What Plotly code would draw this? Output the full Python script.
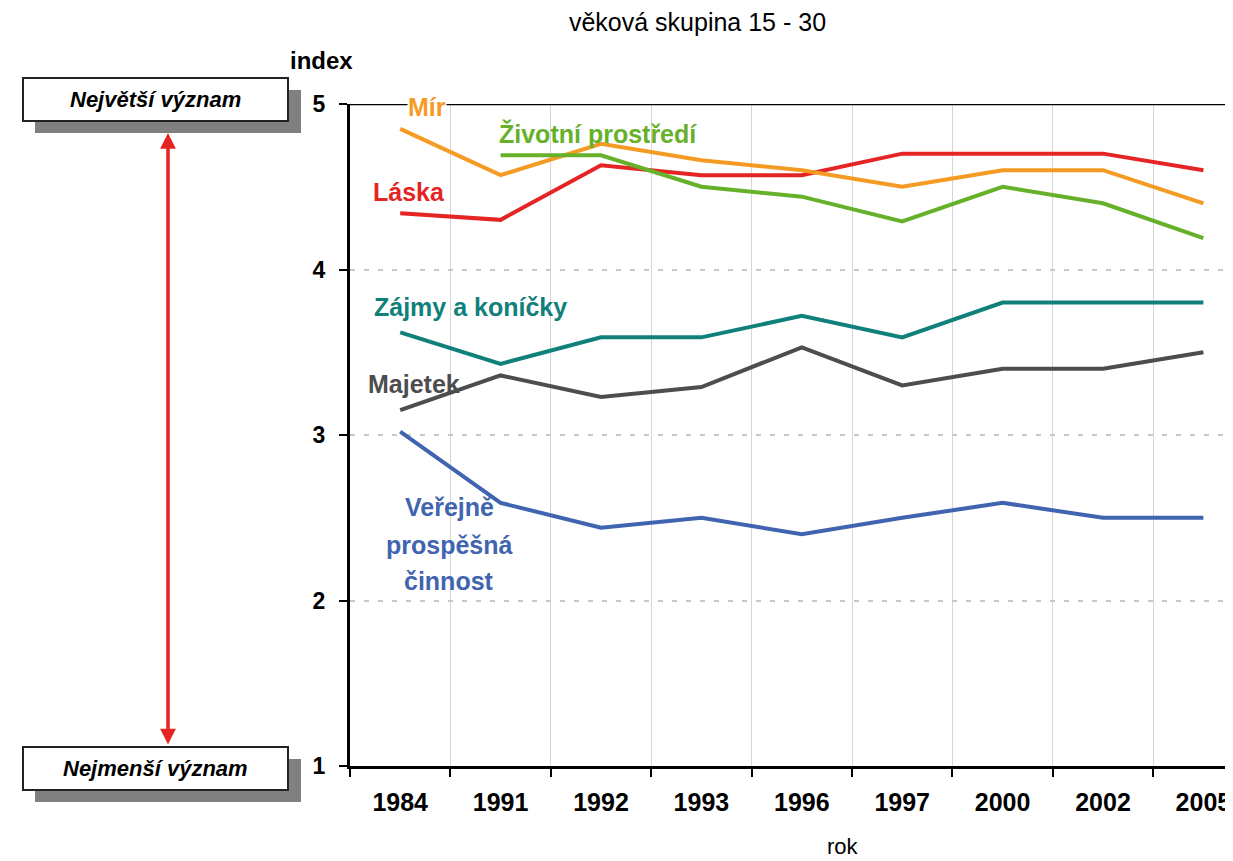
import plotly.graph_objects as go

# ---- data ----
years = ["1984", "1991", "1992", "1993", "1996", "1997", "2000", "2002", "2005"]
mir = [4.85, 4.57, 4.76, 4.66, 4.60, 4.50, 4.60, 4.60, 4.40]
zivotni_prostredi = [None, 4.69, 4.69, 4.50, 4.44, 4.29, 4.50, 4.40, 4.19]
laska = [4.34, 4.30, 4.63, 4.57, 4.57, 4.70, 4.70, 4.70, 4.60]
zajmy = [3.62, 3.43, 3.59, 3.59, 3.72, 3.59, 3.80, 3.80, 3.80]
majetek = [3.15, 3.36, 3.23, 3.29, 3.53, 3.30, 3.40, 3.40, 3.50]
verejne = [3.02, 2.59, 2.44, 2.50, 2.40, 2.50, 2.59, 2.50, 2.50]
y_ticks = [1, 2, 3, 4, 5]

series_names = ["Veřejně prospěšná činnost", "Majetek", "Zájmy a koníčky", "Láska", "Mír", "Životní prostředí"]
series_values = [verejne, majetek, zajmy, laska, mir, zivotni_prostredi]
series_colors = ["#4064B0", "#4D4D4F", "#10807A", "#E42524", "#F59A23", "#67B12A"]

FONT = "Liberation Sans, Arial, sans-serif"
OFF = 8  # page body margin
W, H = 1233 - OFF, 861 - OFF
# plot area in picture pixels
PL, PT, PB, PR = 350, 104, 766, 1233
L, T = PL - OFF, PT - OFF
R = W - (PR - OFF)
B = H - (PB - OFF)
PW, PH = PR - PL, PB - PT


def px(x):
    return (x - PL) / PW


def py(y):
    return (PB - y) / PH


fig = go.Figure()
for name, vals, col in zip(series_names, series_values, series_colors):
    fig.add_trace(go.Scatter(x=years, y=vals, mode="lines", name=name,
                             line=dict(color=col, width=4), connectgaps=False))

annotations = []
lab = [
    ("Mír", "#F59A23", 426.5, 107, True),
    ("Životní prostředí", "#67B12A", 598, 133, False),
    ("Láska", "#E42524", 409, 192, False),
    ("Zájmy a koníčky", "#10807A", 470, 307, False),
    ("Majetek", "#4D4D4F", 414, 384, False),
    ("Veřejně", "#4064B0", 449, 507, False),
    ("prospěšná", "#4064B0", 449, 545, False),
    ("činnost", "#4064B0", 449, 581, False),
]
for t, c, x, y, bg in lab:
    annotations.append(dict(text=t, xref="paper", yref="paper", x=px(x), y=py(y),
                            xanchor="center", yanchor="middle", showarrow=False,
                            bgcolor="white" if bg else None, borderpad=0,
                            font=dict(family=FONT, size=25, color=c, weight="bold")))

annotations.append(dict(text="index", xref="paper", yref="paper", x=px(321), y=py(61),
                        xanchor="center", yanchor="middle", showarrow=False,
                        font=dict(family=FONT, size=24, color="black", weight="bold")))
annotations.append(dict(text="rok", xref="paper", yref="paper", x=px(843), y=py(861),
                        xanchor="center", yanchor="bottom", showarrow=False,
                        font=dict(family=FONT, size=22, color="black")))

for t, y in [("Největší význam", 99.5), ("Nejmenší význam", 768.5)]:
    annotations.append(dict(text=t, xref="paper", yref="paper", x=px(155.5), y=py(y),
                            xanchor="center", yanchor="middle", showarrow=False,
                            font=dict(family=FONT, size=22, color="black", weight="bold", style="italic")))

annotations.append(dict(text="", xref="paper", yref="paper", x=px(168), y=py(133),
                        ax=0, ay=746 - 133, axref="pixel", ayref="pixel",
                        showarrow=True, arrowhead=2, arrowside="end+start",
                        arrowwidth=3.5, arrowsize=0.9, arrowcolor="#E42524"))

shapes = []
shapes.append(dict(type="line", xref="paper", yref="y", x0=0, x1=1, y0=5, y1=5,
                   line=dict(color="black", width=2.5), layer="above"))
for top in [78, 747]:
    shapes.append(dict(type="rect", xref="paper", yref="paper",
                       x0=px(35), x1=px(301), y0=py(top + 12), y1=py(top + 55),
                       fillcolor="#808080", line=dict(width=0), layer="above"))
    shapes.append(dict(type="rect", xref="paper", yref="paper",
                       x0=px(23), x1=px(288), y0=py(top), y1=py(top + 43),
                       fillcolor="white", line=dict(color="#222222", width=2), layer="above"))

fig.update_layout(
    width=W, height=H,
    margin=dict(l=L, r=R, t=T, b=B),
    paper_bgcolor="white", plot_bgcolor="white",
    showlegend=False,
    font=dict(family=FONT, color="black"),
    title=dict(text="věková skupina 15 - 30", xref="paper", x=px(697.5), xanchor="center",
               yref="container", y=1 - (22 - OFF) / H, yanchor="middle",
               font=dict(family=FONT, size=25, color="black")),
    annotations=annotations,
    shapes=shapes,
    xaxis=dict(type="category", categoryorder="array", categoryarray=years,
               range=[-0.5, -0.5 + PW / 100.4], tickson="boundaries", ticks="outside", ticklen=8,
               tickwidth=2, tickcolor="black", showline=True, linecolor="black", linewidth=3,
               showgrid=True, gridcolor="#D6D6D6", gridwidth=1, zeroline=False,
               ticklabelstandoff=12,
               tickfont=dict(family=FONT, size=25, color="black", weight="bold")),
    yaxis=dict(range=[1, 5], tickvals=y_ticks, ticks="outside", ticklen=8, tickwidth=2,
               tickcolor="black", showline=True, linecolor="black", linewidth=3,
               showgrid=True, gridcolor="#C8C8C8", gridwidth=2, griddash="5px,9px",
               zeroline=False, ticklabelstandoff=9,
               tickfont=dict(family=FONT, size=23, color="black", weight="bold")),
)

fig.write_html("out.html")
